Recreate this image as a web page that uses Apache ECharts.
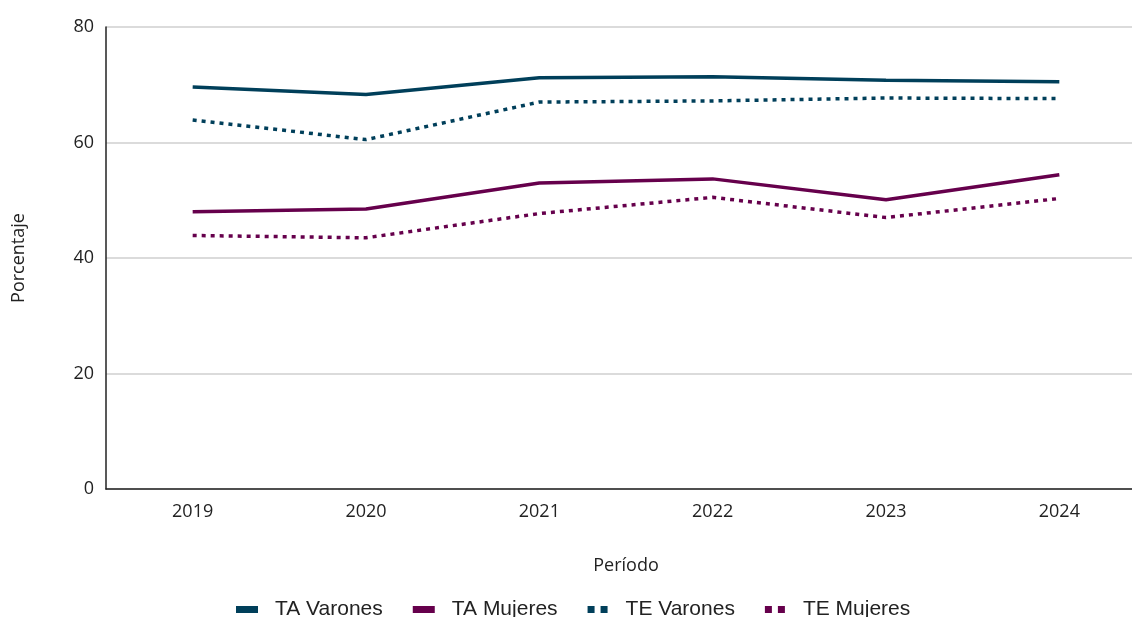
<!DOCTYPE html>
<html>
<head>
<meta charset="utf-8">
<script src="https://cdn.jsdelivr.net/npm/echarts@6/dist/echarts.min.js"></script>
<style>
  html, body { margin: 0; padding: 0; background: #fff; overflow: hidden; }
  /* el gráfico original está recortado por la derecha */
  #chart { width: 1146px; height: 617px; }
</style>
</head>
<body>
<div id="chart"></div>
<script>
// datos
const years = ['2019', '2020', '2021', '2022', '2023', '2024'];
const taVarones = [69.6, 68.3, 71.2, 71.4, 70.8, 70.5];
const taMujeres = [48.0, 48.5, 53.0, 53.7, 50.1, 54.4];
const teVarones = [63.9, 60.5, 67.0, 67.2, 67.7, 67.6];
const teMujeres = [43.9, 43.5, 47.7, 50.5, 47.0, 50.3];
const yTicks = [0, 20, 40, 60, 80];

const teal = '#003f5a';
const plum = '#66004c';
const dotIcon = 'path://M0,0h7v7h-7z M13,0h7v7h-7z';
const axisFont = 'Open Sans, sans-serif';

const chart = echarts.init(document.getElementById('chart'));

const lineSeries = (name, data, color, dotted) => ({
  name: name,
  type: 'line',
  data: data,
  showSymbol: false,
  symbol: 'none',
  color: color,
  lineStyle: {
    color: color,
    width: 3.5,
    type: dotted ? [4, 5] : 'solid',
    cap: 'butt'
  }
});

chart.setOption({
  animation: false,
  grid: {
    left: 106,
    top: 27,
    right: 0,
    height: 462
  },
  legend: {
    bottom: -8,
    left: 231,
    itemWidth: 22,
    itemHeight: 7,
    itemGap: 30,
    textStyle: {
      fontFamily: 'Liberation Sans, Arial, sans-serif',
      fontSize: 21,
      color: '#222',
      padding: [0, 0, 0, 12]
    },
    data: [
      {name: 'TA Varones', icon: 'rect'},
      {name: 'TA Mujeres', icon: 'rect'},
      {name: 'TE Varones', icon: dotIcon},
      {name: 'TE Mujeres', icon: dotIcon}
    ]
  },
  xAxis: {
    type: 'category',
    data: years,
    boundaryGap: true,
    name: 'Período',
    nameLocation: 'middle',
    nameGap: 68,
    nameTextStyle: {fontFamily: axisFont, fontSize: 18, color: '#222'},
    axisLine: {lineStyle: {color: '#222', width: 1.5}},
    axisTick: {show: false},
    axisLabel: {fontFamily: axisFont, fontSize: 18, color: '#222', margin: 14}
  },
  yAxis: {
    type: 'value',
    min: yTicks[0],
    max: yTicks[yTicks.length - 1],
    interval: 20,
    name: 'Porcentaje',
    nameLocation: 'middle',
    nameGap: 78,
    nameRotate: 90,
    nameTextStyle: {fontFamily: axisFont, fontSize: 18, color: '#222'},
    axisLine: {show: true, lineStyle: {color: '#222', width: 1.5}},
    axisTick: {show: false},
    splitLine: {lineStyle: {color: '#cfcfcf', width: 1.5}},
    axisLabel: {fontFamily: axisFont, fontSize: 18, color: '#222', margin: 12}
  },
  series: [
    lineSeries('TA Varones', taVarones, teal, false),
    lineSeries('TA Mujeres', taMujeres, plum, false),
    lineSeries('TE Varones', teVarones, teal, true),
    lineSeries('TE Mujeres', teMujeres, plum, true)
  ]
});
</script>
</body>
</html>
